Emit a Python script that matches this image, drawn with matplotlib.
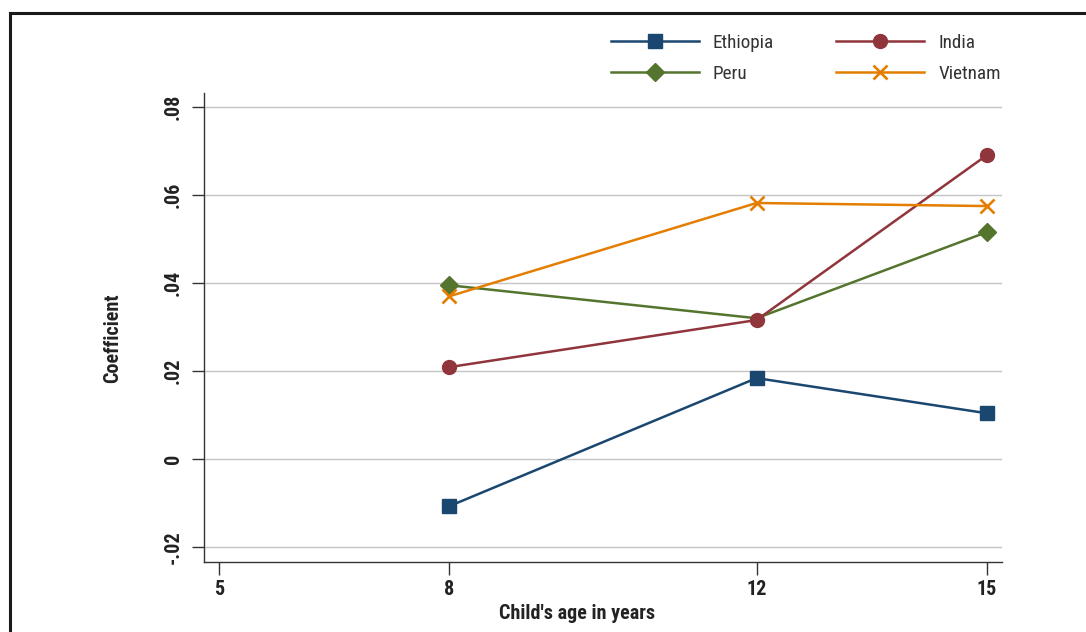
"""
Age profile of the coefficient for the four Young Lives countries.
"""

import matplotlib

matplotlib.use("Agg")

import matplotlib.pyplot as plt
from matplotlib import font_manager
from matplotlib.lines import Line2D

ages = [8, 12, 15]
countries = ["Ethiopia", "Peru", "India", "Vietnam"]
ethiopia = [-0.0107, 0.0184, 0.0104]
india = [0.0209, 0.0316, 0.0691]
peru = [0.0395, 0.0320, 0.0516]
vietnam = [0.0370, 0.0582, 0.0575]
x_ticks = [5, 8, 12, 15]
y_ticks = [-0.02, 0, 0.02, 0.04, 0.06, 0.08]
y_tick_labels = ["-.02", "0", ".02", ".04", ".06", ".08"]

installed = {f.name for f in font_manager.fontManager.ttflist}
family = "DejaVu Sans"
for cand in ["Liberation Sans Narrow", "Roboto Condensed", "Open Sans Condensed", "Roboto"]:
    if cand in installed:
        family = cand
        break
plt.rcParams["font.family"] = [family, "DejaVu Sans"]

styles = {
    "Ethiopia": dict(color="#1a476f", marker="s", markersize=9.5),
    "India": dict(color="#90353b", marker="o", markersize=10),
    # the Peru marker at age 12 sits under India's and is left out
    "Peru": dict(color="#55752f", marker="D", markersize=9.5, markevery=[0, 2]),
    "Vietnam": dict(color="#e37e00", marker="x", markersize=10.5, markeredgewidth=1.9),
}
series = {"Ethiopia": ethiopia, "India": india, "Peru": peru, "Vietnam": vietnam}

W, H = 1086, 632
fig = plt.figure(figsize=(W / 100, H / 100), dpi=100)
ax = fig.add_axes([204 / W, 1 - 562 / H, (1002 - 204) / W, (562 - 93) / H])

lines = {}
for name in countries:
    (lines[name],) = ax.plot(ages, series[name], linewidth=1.8, **styles[name], zorder=3)

tick_fs = 14.5
ax.set_xlim(4.805, 15.195)
ax.set_ylim(-0.0234, 0.0832)
ax.set_xticks(x_ticks)
ax.set_xticklabels([str(t) for t in x_ticks], fontsize=tick_fs, fontweight="bold", color="#222222")
ax.set_yticks(y_ticks)
ax.set_yticklabels(y_tick_labels, fontsize=tick_fs, fontweight="bold", color="#222222",
                   rotation=90, va="center")
ax.tick_params(axis="both", length=9, width=1, color="#333333")
ax.tick_params(axis="x", pad=4)
ax.tick_params(axis="y", pad=6)
ax.grid(axis="y", color="#c4c4c4", linewidth=1)
ax.set_axisbelow(True)
for side in ("top", "right"):
    ax.spines[side].set_visible(False)
for side in ("left", "bottom"):
    ax.spines[side].set_color("#333333")
    ax.spines[side].set_linewidth(1)

ax.set_xlabel("Child's age in years", fontsize=tick_fs, fontweight="bold", color="#222222",
              va="center")
ax.set_ylabel("Coefficient", fontsize=tick_fs, fontweight="bold", color="#222222",
              va="center")
ax.xaxis.set_label_coords(0.467, -0.109)
ax.yaxis.set_label_coords(-0.114, 0.478)

# column-major fill, so the first row reads Ethiopia, India
order = ["Ethiopia", "Peru", "India", "Vietnam"]
fs = 13.8
px = fs * 100 / 72
fig.legend(
    [lines[n] for n in order],
    order,
    ncol=2,
    loc="upper left",
    bbox_to_anchor=(611 / W, 1 - 34 / H),
    frameon=False,
    borderpad=0,
    borderaxespad=0,
    fontsize=fs,
    handlelength=88 / px,
    handletextpad=14 / px,
    columnspacing=62 / px,
    labelspacing=0.68,
    labelcolor="#333333",
)

# outer frame of the graph region
fig.add_artist(Line2D([10 / W, 10 / W], [0, 1 - 13 / H], color="#1a1a1a",
                      linewidth=2.2, transform=fig.transFigure))
fig.add_artist(Line2D([10 / W, 1], [1 - 13 / H, 1 - 13 / H], color="#1a1a1a",
                      linewidth=2.2, transform=fig.transFigure))

fig.savefig("out.png", dpi=100)
